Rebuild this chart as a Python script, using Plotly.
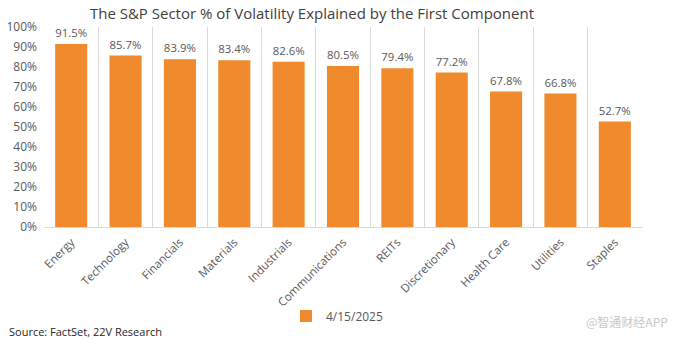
import plotly.graph_objects as go

categories = ["Energy", "Technology", "Financials", "Materials", "Industrials",
              "Communications", "REITs", "Discretionary", "Health Care", "Utilities", "Staples"]
values = [91.5, 85.7, 83.9, 83.4, 82.6, 80.5, 79.4, 77.2, 67.8, 66.8, 52.7]
series_name = "4/15/2025"
ytick_vals = [0, 10, 20, 30, 40, 50, 60, 70, 80, 90, 100]
ytick_text = [f"{v}%" for v in ytick_vals]

FONT = "Open Sans, Lato, sans-serif"
ORANGE = "#F08A2C"

fig = go.Figure()
fig.add_trace(go.Bar(
    x=categories, y=values, name=series_name,
    marker=dict(color=ORANGE, line=dict(width=0)),
    text=[f"{v:.1f}%" for v in values],
    textposition="outside", cliponaxis=False,
    textfont=dict(family=FONT, size=12, color="#595959"),
    showlegend=True,
))

fig.update_layout(
    width=679, height=339,
    margin=dict(l=44, r=37, t=27, b=112, autoexpand=False),
    paper_bgcolor="white", plot_bgcolor="white",
    bargap=0.41,
    font=dict(family=FONT, color="#595959", size=11),
    title=dict(text="The S&P Sector % of Volatility Explained by the First Component",
               x=312/679, xanchor="center", y=1 - 14/339, yanchor="middle",
               font=dict(family=FONT, size=15, color="#404040")),
    xaxis=dict(type="category", tickson="boundaries", showgrid=True, automargin=False,
               gridcolor="#D9D9D9", gridwidth=1, tickangle=-45, ticklabelstandoff=3,
               ticks="", showline=True, linecolor="#D9D9D9",
               tickfont=dict(family=FONT, size=11.5, color="#595959")),
    yaxis=dict(range=[0, 100], tickvals=ytick_vals, ticktext=ytick_text, automargin=False,
               showgrid=False, zeroline=False, showline=False, ticks="", ticklabelstandoff=6,
               tickfont=dict(family=FONT, size=12, color="#595959")),
    legend=dict(orientation="h", x=(337 - 44) / 598, xanchor="center", y=-89 / 200, yanchor="middle",
                bgcolor="rgba(0,0,0,0)",
                font=dict(family=FONT, size=12, color="#595959"),
                itemwidth=30),
    annotations=[
        dict(text="Source: FactSet, 22V Research", xref="paper", yref="paper",
             x=-37/598, y=-104/200, xanchor="left", yanchor="middle", showarrow=False,
             font=dict(family=FONT, size=11, color="#262626")),
        dict(text="@智通财经APP", xref="paper", yref="paper",
             x=(670-44)/598, y=-94/200, xanchor="right", yanchor="middle", showarrow=False,
             font=dict(family="Noto Sans CJK SC", size=12, color="#C8C8C8")),
    ],
)

fig.write_html("out.html")
